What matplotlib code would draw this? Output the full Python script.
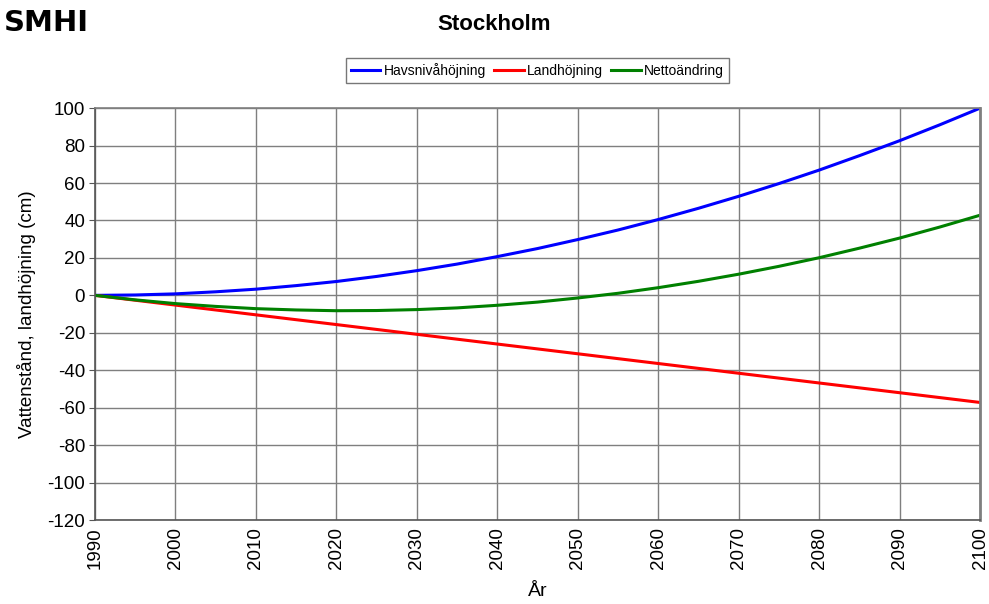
import matplotlib
matplotlib.use("Agg")
import matplotlib.pyplot as plt

plt.rcParams['font.family'] = ['Liberation Sans', 'DejaVu Sans']
plt.rcParams['axes.unicode_minus'] = False

# Years (5-year steps) and readings from the chart, in cm
years = [1990, 1995, 2000, 2005, 2010, 2015, 2020, 2025, 2030, 2035, 2040, 2045,
         2050, 2055, 2060, 2065, 2070, 2075, 2080, 2085, 2090, 2095, 2100]
havsniva = [0, 0.2, 0.8, 1.9, 3.3, 5.2, 7.4, 10.1, 13.2, 16.7, 20.7, 25.0,
            29.8, 34.9, 40.5, 46.5, 52.9, 59.7, 66.9, 74.6, 82.6, 91.1, 100]
landhojning = [0, -2.6, -5.2, -7.8, -10.4, -13.0, -15.6, -18.2, -20.8, -23.4, -26.0, -28.6,
               -31.2, -33.8, -36.4, -39.0, -41.6, -44.2, -46.8, -49.4, -52.0, -54.6, -57.2]
netto = [0, -2.4, -4.4, -5.9, -7.1, -7.8, -8.2, -8.1, -7.6, -6.7, -5.3, -3.6,
         -1.4, 1.1, 4.1, 7.5, 11.3, 15.5, 20.1, 25.2, 30.6, 36.5, 42.8]

xticks = list(range(1990, 2101, 10))
yticks = list(range(-120, 101, 20))

fig = plt.figure(figsize=(9.89, 6.04), dpi=100, facecolor='white')
ax = fig.add_axes([0.096, 0.139, 0.895, 0.682])

ax.plot(years, havsniva, color='#0000ff', lw=2.2, label='Havsnivåhöjning')
ax.plot(years, landhojning, color='#ff0000', lw=2.2, label='Landhöjning')
ax.plot(years, netto, color='#008000', lw=2.2, label='Nettoändring')

ax.set_xlim(1990, 2100)
ax.set_ylim(-120, 100)
ax.set_xticks(xticks)
ax.set_yticks(yticks)
ax.tick_params(axis='x', labelrotation=90, labelsize=13.5, length=0, pad=5)
ax.tick_params(axis='y', labelsize=13.5, length=4, color='#555555', pad=3)
ax.grid(True, color='#7f7f7f', lw=1)
ax.set_axisbelow(True)
for s in ax.spines.values():
    s.set_color('#7f7f7f')
    s.set_linewidth(1.2)
ax.spines['left'].set_color('#555555')
ax.spines['bottom'].set_color('#555555')
ax.spines['right'].set_linewidth(2)

ax.set_xlabel('År', fontsize=14, labelpad=10)
ax.set_ylabel('Vattenstånd, landhöjning (cm)', fontsize=13.5, labelpad=8)

fig.text(0.5, 0.96, 'Stockholm', ha='center', va='center', fontsize=16, fontweight='bold')
fig.text(0.004, 0.985, 'SMHI', ha='left', va='top', fontsize=21, fontweight='black',
         family='DejaVu Sans')

leg = ax.legend(loc='center', bbox_to_anchor=(0.5, 1.092), ncol=3, fontsize=10,
                frameon=True, fancybox=False, edgecolor='#555555', handlelength=2.1,
                handletextpad=0.25, columnspacing=0.6, borderpad=0.35)
leg.get_frame().set_linewidth(1)

fig.savefig('out.png', dpi=100)
